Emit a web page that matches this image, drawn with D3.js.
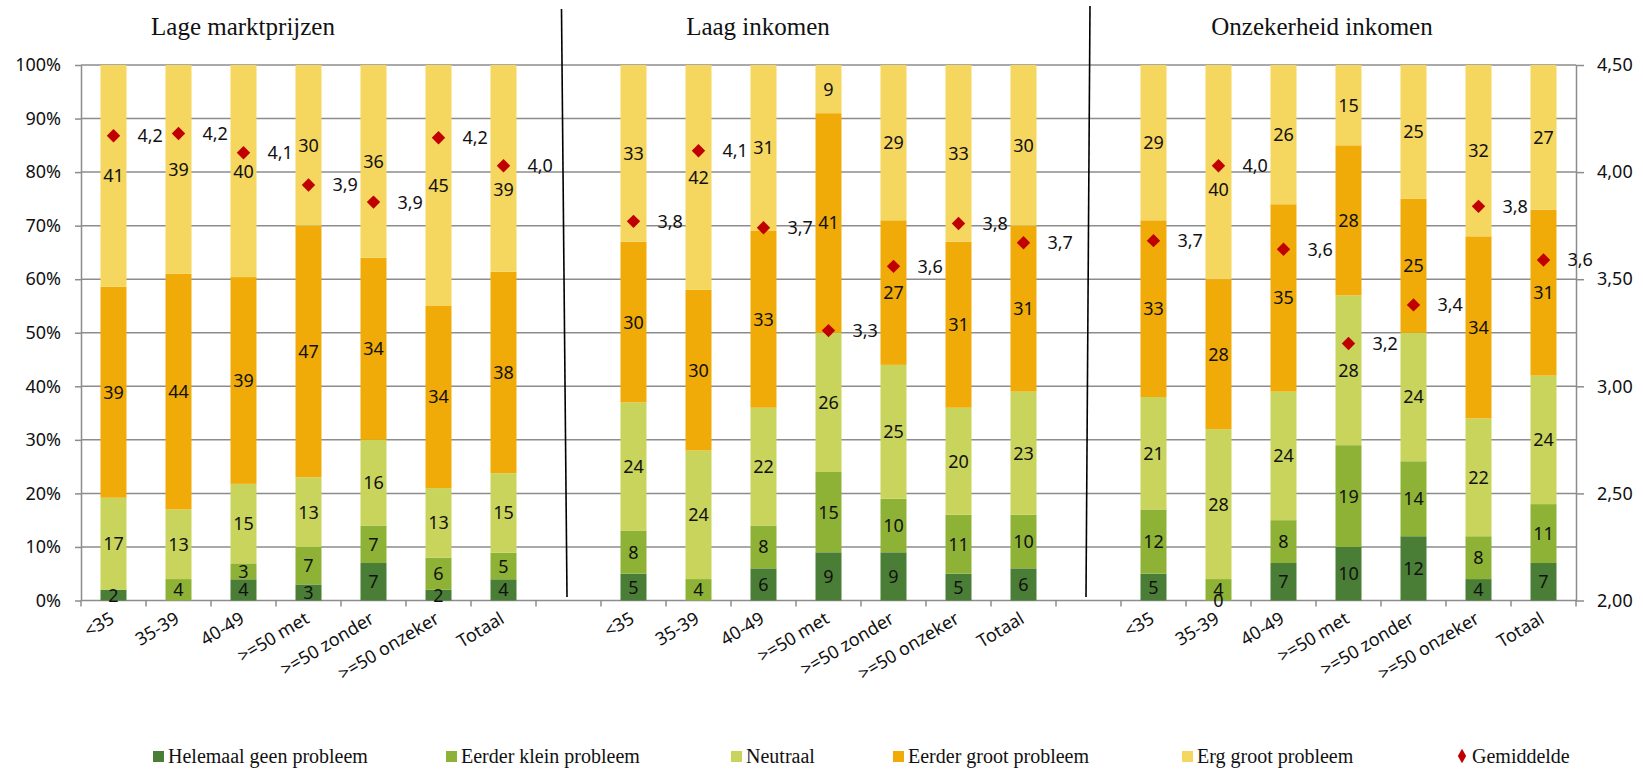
<!DOCTYPE html>
<html><head><meta charset="utf-8">
<script src="https://cdn.jsdelivr.net/npm/d3@7"></script>
<style>
body{margin:0;background:#fff;}
svg{display:block;}
</style></head><body>
<svg id="chart" width="1643" height="769"></svg>
<script>
// ---- data ----
const panels = ["Lage marktprijzen", "Laag inkomen", "Onzekerheid inkomen"];
const categories = ["<35", "35-39", "40-49", ">=50 met", ">=50 zonder", ">=50 onzeker", "Totaal"];
const seriesNames = ["Helemaal geen probleem", "Eerder klein probleem", "Neutraal", "Eerder groot probleem", "Erg groot probleem"];
// values per bar: panel 1 (7 bars), panel 2 (7 bars), panel 3 (7 bars); null = no segment/label
const helemaal = [2, null, 4, 3, 7, 2, 4,   5, null, 6, 9, 9, 5, 6,   5, 0, 7, 10, 12, 4, 7];
const klein    = [null, 4, 3, 7, 7, 6, 5,   8, 4, 8, 15, 10, 11, 10,  12, 4, 8, 19, 14, 8, 11];
const neutraal = [17, 13, 15, 13, 16, 13, 15, 24, 24, 22, 26, 25, 20, 23, 21, 28, 24, 28, 24, 22, 24];
const groot    = [39, 44, 39, 47, 34, 34, 38, 30, 30, 33, 41, 27, 31, 31, 33, 28, 35, 28, 25, 34, 31];
const ergGroot = [41, 39, 40, 30, 36, 45, 39, 33, 42, 31, 9, 29, 33, 30,  29, 40, 26, 15, 25, 32, 27];
const gemiddelde = [4.17, 4.18, 4.09, 3.94, 3.86, 4.16, 4.03,
                    3.77, 4.10, 3.74, 3.26, 3.56, 3.76, 3.67,
                    3.68, 4.03, 3.64, 3.20, 3.38, 3.84, 3.59];
const leftTicks = [0, 0.1, 0.2, 0.3, 0.4, 0.5, 0.6, 0.7, 0.8, 0.9, 1.0];
const rightTicks = [2.0, 2.5, 3.0, 3.5, 4.0, 4.5];
const meanLabel = "Gemiddelde";

// ---- styles ----
const colors = ["#4A7E36", "#8DB236", "#C9D45D", "#F0AB08", "#F5D65E"];
const diamondColor = "#C00000";
const gridColor = "#8C8C8C";
const sansFont = "'Noto Sans', 'Open Sans', sans-serif";
const serifFont = "'Liberation Serif', 'DejaVu Serif', serif";

const seriesArrays = [helemaal, klein, neutraal, groot, ergGroot];
const keys = ["s0", "s1", "s2", "s3", "s4"];

const rows = [];
panels.forEach((p, pi) => {
  categories.forEach((c, ci) => {
    const i = pi * categories.length + ci;
    const r = {key: pi + "|" + ci, panel: pi, cat: c, mean: gemiddelde[i]};
    keys.forEach((k, si) => r[k] = seriesArrays[si][i]);
    rows.push(r);
  });
});

const domain = [];
panels.forEach((p, pi) => {
  if (pi > 0) domain.push("gap" + pi);
  categories.forEach((c, ci) => domain.push(pi + "|" + ci));
});

const svg = d3.select("#chart");
const x0 = 81, x1 = 1576, yTop = 65, yBot = 600.5;

const x = d3.scaleBand().domain(domain).range([x0, x1]).paddingInner(0.6).paddingOuter(0.3);
const y = d3.scaleLinear().domain([0, 1]).range([yBot, yTop]);
const y2 = d3.scaleLinear().domain([2, 4.5]).range([yBot, yTop]);

// gridlines
svg.append("g").selectAll("line").data(leftTicks).join("line")
  .attr("x1", x0).attr("x2", x1)
  .attr("y1", d => y(d)).attr("y2", d => y(d))
  .attr("stroke", gridColor).attr("stroke-width", 1.5);

// left axis
const gL = svg.append("g").attr("transform", `translate(${x0},0)`)
  .call(d3.axisLeft(y).tickValues(leftTicks).tickFormat(d3.format(".0%")).tickSize(6).tickSizeOuter(0).tickPadding(14));
// right axis
const gR = svg.append("g").attr("transform", `translate(${x1},0)`)
  .call(d3.axisRight(y2).tickValues(rightTicks).tickFormat(d => d.toFixed(2).replace(".", ",")).tickSize(8).tickSizeOuter(0).tickPadding(13));
[gL, gR].forEach(g => {
  g.select(".domain").attr("stroke", gridColor).attr("stroke-width", 1.5);
  g.selectAll(".tick line").attr("stroke", gridColor).attr("stroke-width", 1.5);
  g.selectAll(".tick text").attr("font-family", sansFont).attr("font-size", 18).attr("fill", "#111");
});

// bottom ticks at slot boundaries
const gap = (x.step() - x.bandwidth()) / 2;
const boundaries = domain.map(d => x(d) - gap).concat([x1]);
svg.append("g").selectAll("line").data(boundaries).join("line")
  .attr("x1", d => d).attr("x2", d => d)
  .attr("y1", yBot).attr("y2", yBot + 6)
  .attr("stroke", gridColor).attr("stroke-width", 1.5);

// stacks
const stack = d3.stack().keys(keys).value((d, k) => d[k] == null ? 0 : d[k]).offset(d3.stackOffsetExpand);
const stacked = stack(rows);

const gBars = svg.append("g");
stacked.forEach((layer, si) => {
  gBars.append("g").attr("fill", colors[si]).selectAll("rect").data(layer).join("rect")
    .attr("x", d => x(d.data.key))
    .attr("width", x.bandwidth())
    .attr("y", d => y(d[1]))
    .attr("height", d => Math.max(0, y(d[0]) - y(d[1])));
});

// segment labels (moved below the mean marker when they would sit on it)
const labelY = d => {
  const ly = y((d[0] + d[1]) / 2);
  const my = y2(d.data.mean);
  return Math.abs(ly - my) < 14 ? my + 24 : ly;
};
const gLab = svg.append("g").attr("font-family", sansFont).attr("font-size", 18).attr("fill", "#111").attr("text-anchor", "middle");
stacked.forEach((layer, si) => {
  gLab.append("g").selectAll("text").data(layer.filter(d => d.data[keys[si]] != null)).join("text")
    .attr("x", d => x(d.data.key) + x.bandwidth() / 2)
    .attr("y", labelY)
    .attr("dy", "0.36em")
    .text(d => d.data[keys[si]]);
});

// mean diamonds
const diamond = d3.symbol(d3.symbolSquare, 90);
svg.append("g").selectAll("path").data(rows).join("path")
  .attr("d", diamond)
  .attr("fill", diamondColor)
  .attr("transform", d => `translate(${x(d.key) + x.bandwidth() / 2},${y2(d.mean)}) rotate(45)`);
svg.append("g").attr("font-family", sansFont).attr("font-size", 18).attr("fill", "#111")
  .selectAll("text").data(rows).join("text")
  .attr("x", d => x(d.key) + x.bandwidth() / 2 + 24)
  .attr("y", d => y2(d.mean))
  .attr("dy", "0.36em")
  .text(d => d.mean.toFixed(1).replace(".", ","));

// category labels
svg.append("g").attr("font-family", sansFont).attr("font-size", 18).attr("fill", "#111").attr("text-anchor", "end")
  .selectAll("text").data(rows).join("text")
  .attr("transform", d => `translate(${x(d.key) + x.bandwidth() / 2 + 2},${622}) rotate(-31)`)
  .text(d => d.cat);

// panel dividers
const dividers = [[561.5, 9, 567, 597], [1090, 6, 1086, 597]];
svg.append("g").selectAll("line").data(dividers).join("line")
  .attr("x1", d => d[0]).attr("y1", d => d[1]).attr("x2", d => d[2]).attr("y2", d => d[3])
  .attr("stroke", "#000").attr("stroke-width", 1.6);

// titles
const titleX = [243, 758, 1322];
svg.append("g").attr("font-family", serifFont).attr("font-size", 25).attr("fill", "#111").attr("text-anchor", "middle")
  .selectAll("text").data(panels).join("text")
  .attr("x", (d, i) => titleX[i]).attr("y", 35)
  .text(d => d);

// legend
const legendX = [152, 445, 730, 892, 1181];
const legendTextX = [168, 461, 746, 908, 1197];
const gLeg = svg.append("g").attr("font-family", serifFont).attr("font-size", 20).attr("fill", "#111");
seriesNames.forEach((n, i) => {
  gLeg.append("rect").attr("x", legendX[i] + 1).attr("y", 751).attr("width", 11).attr("height", 11).attr("fill", colors[i]);
  gLeg.append("text").attr("x", legendTextX[i]).attr("y", 763).text(n);
});
gLeg.append("path").attr("d", d3.symbol(d3.symbolDiamond, 60)).attr("fill", diamondColor)
  .attr("transform", "translate(1462,756)");
gLeg.append("text").attr("x", 1472).attr("y", 763).text(meanLabel);
</script>
</body></html>
